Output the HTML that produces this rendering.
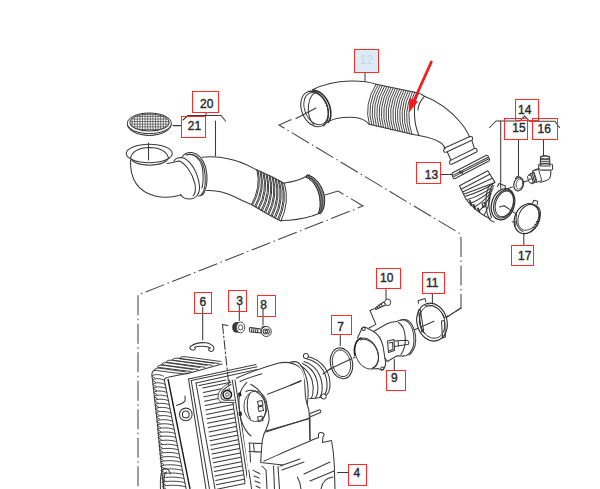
<!DOCTYPE html>
<html><head><meta charset="utf-8"><style>
html,body{margin:0;padding:0;background:#fff;}
body{width:600px;height:489px;overflow:hidden;position:relative;}
svg{position:absolute;left:0;top:0;}
.l{fill:none;stroke:#3a3a3a;stroke-width:1.05;stroke-linecap:round;stroke-linejoin:round;}
.t{fill:none;stroke:#2a2a2a;stroke-width:1.6;}
.dd{fill:none;stroke:#444;stroke-width:1.05;stroke-dasharray:20 3.5 1.5 3.5;}
.b{fill:none;stroke:#ff2a2a;stroke-width:1;}
.n{font-family:"Liberation Sans",sans-serif;font-weight:normal;font-size:12px;fill:#2b2b2b;stroke:#2b2b2b;stroke-width:0.4;}
</style></head><body>
<svg width="600" height="489" viewBox="0 0 600 489">
<!-- dash-dot phantom lines -->
<g id="dd">
<path class="dd" d="M291.5 119.5 L279 125 L459 233 Q461 235 461 240 L461 308 L446 317"/>
<path class="dd" d="M325 195 L338 191 L363 206 L138 295 L138 489"/>
</g>


<!-- PART 21 screen -->
<defs>
<clipPath id="scr"><ellipse cx="149.5" cy="122.4" rx="19.3" ry="8.2"/></clipPath>
</defs>
<g id="p21">
<path class="l" d="M127.4 124.8 C128 130 137 135.4 149.3 135.4 C161.5 135.4 170.5 130 171.2 124.8"/>
<ellipse cx="149.3" cy="123.3" rx="22" ry="10.3" fill="#fff" stroke="#333" stroke-width="1"/>
<ellipse class="l" cx="149.5" cy="122.4" rx="19.6" ry="8.5"/>
<g clip-path="url(#scr)" stroke="#4a4a4a" stroke-width="0.75" fill="none">
<path d="M127 113.8H172 M127 116.4H172 M127 119.0H172 M127 121.6H172 M127 124.2H172 M127 126.8H172 M127 129.4H172 M127 132.0H172"/>
<path d="M129.5 112V134 M132.1 112V134 M134.7 112V134 M137.3 112V134 M139.9 112V134 M142.5 112V134 M145.1 112V134 M147.7 112V134 M150.3 112V134 M152.9 112V134 M155.5 112V134 M158.1 112V134 M160.7 112V134 M163.3 112V134 M165.9 112V134 M168.5 112V134"/>
</g>
<path class="l" d="M173 125.6H181"/>
</g>

<!-- PART 20 hose -->
<g id="p20">
<!-- leaders/bracket -->
<path class="l" d="M206 113V115.5M183 120L188 115.5H221L225.5 121"/>
<path class="l" d="M215.5 121V156"/>
<!-- top opening -->
<ellipse class="l" cx="149.3" cy="153.5" rx="23" ry="9.2"/>
<path class="l" d="M130.5 158 Q133 148 149.5 147.5 Q166 148 168.5 158 Q166 164.5 149.5 165.2 Q133 164.5 130.5 158"/>
<path class="l" d="M148.5 143V160"/>
<!-- elbow body -->
<path class="l" d="M130.5 160 C130 177 136 191 155 196 C163 198 172 197.5 181 195"/>
<path class="l" d="M167 163.5 C172 163 175 162 179 161"/>
<!-- front lip of collar -->
<path class="l" d="M174 161 C175 158 180 157 184 158 C191 162 198 172 199.5 186 C200 194 196 199 189.5 199 C185 199 182 197 180.5 194.5"/>
<path class="l" d="M179 161 C185 163 192 172 195 184 C196 190 195 194 193 196"/>
<!-- back flange rings -->
<path class="l" d="M182.5 156.5 C185 153 189 152.3 192 152.6 C198 153.5 203 159 205.5 167 C207.5 175 207.5 185 204.5 192 C203 195 201 196 198.5 196"/>
<path class="l" d="M186 155 C190 153.5 196 154.5 200.5 160 C204 165 205.5 173 205.3 182 C205 188 203.5 192.5 201 195"/>
<path class="l" d="M190 154 C195 154.5 200 159.5 202 166 C203.5 172 203.6 182 202 188"/>
<!-- hose after collar -->
<path class="l" d="M202 157.3 C208 156.4 214 156.5 220 157.3 C229 158.5 238 161 246 164.5 C250 166.5 254 168.5 257 170"/>
<path class="l" d="M206.5 190.5 C215 190 225 192 234 196.5 C241 200 246 202.5 251.5 204.5"/>
<!-- bellows -->
<path class="l" d="M257 170 C262 172 275 178 284.5 183.5"/>
<path class="l" d="M251.5 204.5 C259 209 270 216 281 221"/>
<g id="bel20"><path style="stroke-width:1" class="l" d="M257.0 170.0 Q261.2 187.2 251.5 204.5 M258.1 170.5 Q262.4 187.8 252.6 205.1 M260.1 171.5 Q264.4 188.9 254.8 206.3 M261.1 172.0 Q265.5 189.5 255.9 207.0 M263.1 173.0 Q267.6 190.6 258.1 208.2 M264.2 173.5 Q268.7 191.2 259.2 208.8 M266.2 174.5 Q270.8 192.2 261.3 210.0 M267.2 175.0 Q271.9 192.8 262.5 210.6 M269.2 176.0 Q273.9 193.9 264.6 211.8 M270.3 176.5 Q275.0 194.5 265.8 212.5 M272.3 177.5 Q277.1 195.6 267.9 213.7 M273.3 178.0 Q278.2 196.2 269.0 214.3 M275.3 179.0 Q280.2 197.2 271.2 215.5 M276.4 179.5 Q281.4 197.8 272.3 216.1 M278.4 180.5 Q283.4 198.9 274.4 217.3 M279.5 181.0 Q284.5 199.5 275.6 218.0 M281.4 182.0 Q286.6 200.6 277.7 219.2 M282.5 182.5 Q287.7 201.2 278.9 219.8 M284.5 183.5 Q289.8 202.2 281.0 221.0"/></g>
<!-- after bellows -->
<path class="l" d="M284.5 183 C292 182 300 180 306 176.5 C307.5 175.5 308.5 175 309.5 175"/>
<path class="l" d="M281.5 220.5 C290 220.5 302 219 312 216 C315 215 317 214 319 213.5"/>
<!-- end flange dark -->
<path d="M307 174.8 C316 176.5 323 186.5 324.5 197 C325.3 204.5 323.5 210.5 320.5 213.8 L318.3 213.4 C320.2 209.5 320.6 204 319.6 197.5 C318.3 189 313.5 180.5 306 177.2 Z" fill="#8a8a8a" stroke="#222" stroke-width="1"/>
<path class="l" d="M308.5 176.5 C315 180 320 188 321.8 197 C322.8 204 322 209.5 319.8 213"/>

</g>


<!-- PART 12 hose -->
<g id="p12">
<path class="l" d="M365 72V80.5"/>
<!-- left cuff rings -->
<ellipse cx="314.5" cy="109" rx="12.8" ry="18.5" transform="rotate(-22 314.5 109)" fill="none" stroke="#333" stroke-width="1"/>
<ellipse cx="316" cy="108.6" rx="11.2" ry="16.8" transform="rotate(-22 316 108.6)" fill="none" stroke="#3a3a3a" stroke-width="0.9"/>
<path class="l" d="M314 124.5 C309.5 121 307.5 113 308.5 105 C309.5 97.5 313 92.5 318 92"/>
<path class="l" d="M308 91.5 C316 89.5 324 96 327.5 106 C330 114 328.5 122 323.5 126"/>
<path class="t" d="M312 90 C320 90 327 97 330 107 C332 115 330.5 121 327.5 123"/>
<path class="l" d="M316 108 L296 118.5"/>
<!-- body -->
<path class="l" d="M313 89.5 C322 85 336 81.5 350 81 C362 80.8 370 82 376 84.3"/>
<path class="l" d="M328.5 121.5 C335 118 345 116.8 355 117.4 C361 118 366 120.5 369.3 124.3"/>
<!-- bellows outline -->
<path class="l" d="M376 84.3 L414.7 92.3"/>
<path class="l" d="M369.3 124.3 L412 134.3"/>
<g id="bel12"><path style="stroke-width:0.95;stroke:#3a3a3a" class="l" d="M376.0 84.3 Q363.6 104.3 369.3 124.3 M378.1 84.7 Q365.9 104.8 371.7 124.9 M380.3 85.2 Q368.2 105.3 374.0 125.4 M382.4 85.6 Q370.4 105.8 376.4 126.0 M384.6 86.1 Q372.7 106.3 378.8 126.5 M386.8 86.5 Q375.0 106.8 381.2 127.1 M388.9 87.0 Q377.2 107.3 383.5 127.6 M391.1 87.4 Q379.5 107.8 385.9 128.2 M393.2 87.9 Q381.7 108.3 388.3 128.7 M395.4 88.3 Q384.0 108.8 390.6 129.3 M397.5 88.7 Q386.3 109.3 393.0 129.9 M399.6 89.2 Q388.5 109.8 395.4 130.4 M401.8 89.6 Q390.8 110.3 397.8 131.0 M403.9 90.1 Q393.0 110.8 400.1 131.5 M406.1 90.5 Q395.3 111.3 402.5 132.1 M408.2 91.0 Q397.6 111.8 404.9 132.6 M410.4 91.4 Q399.8 112.3 407.3 133.2 M412.6 91.9 Q402.1 112.8 409.6 133.7 M414.7 92.3 Q404.4 113.3 412.0 134.3"/></g>
<!-- collar after bellows -->
<path class="l" d="M414.7 92.3 C418 92.5 421 93.5 424.5 96.3"/>
<path class="l" d="M418.5 93.5 C413 102 413 122 419 135.5"/>
<path class="l" d="M424.5 96.3 C420 101 418 106 418 110"/>
<path class="l" d="M412 134.3 L419 135.5"/>
<!-- right body -->
<path class="l" d="M424.5 96.3 C437 101 451 111 461 123 C465 128 468 133 469.5 137"/>
<path class="l" d="M419 135.5 C428 137 436 139.5 441.5 143.2 C443.5 145 444.5 147 445 149"/>
<!-- end fitting -->
<path class="l" d="M444.5 148 L470 136.6 Q472.5 136 472.5 138.5 L472.4 140 L446.6 152 Q444 153 443.6 150.6 Z"/>
<path class="l" d="M447.3 152 L451 160.3 M472 141 L474.5 148.3"/>
<path class="l" d="M450 160.6 L474.6 148.5 Q477 148 477 150.5 L477 151.8 L452.3 164 Q449.6 165 449.4 162.5 Z"/>
</g>

<!-- PART 13 strip -->
<g id="p13">
<path class="l" d="M441 174.4 H452"/>
<path class="l" d="M452.2 173 L486.4 155.2 Q488 155 488.6 157 L489.6 159.8 Q489.5 161 488.5 161.3 L454.6 178.7 Q453.6 179 453.2 178 L452 174.5 Q451.8 173.4 452.2 173 Z"/>
<path class="l" d="M453.3 175.1 L487.6 157.5 M453.8 176.6 L488.4 159"/>
<path class="l" d="M459 173 l4 -2 M459.5 171 l3 2.5"/>
</g>

<!-- BOOT -->
<g id="boot">
<path class="l" d="M459.5 185.7 L487.8 170.8 L495 182.4 L463.6 194.3 Z"/>
<path class="l" d="M461.2 189.2 L489.8 174.2 M462.5 192 L492.3 178.3"/>
<path class="l" d="M463.6 194.3 C464.5 197 466.5 200 469 203 C472 206.5 476 210 481 213.5 C484.5 216 487.5 217.8 490.5 218.8"/>
<path class="l" d="M493.8 183.2 Q481.1 191.7 465.5 196.2 M494 185.8 Q482.4 194.7 467.8 199.6 M493.2 188.3 Q483.5 197.8 470.8 203.3 M492.2 190.8 Q484.9 200.9 474.6 207 M491.2 193.3 Q486.7 204.1 479.2 210.8 M490.3 196 Q488.9 207.2 484.5 214.5"/>
<path d="M468.6 200.6 L470.4 200 L472.6 205.5 L470.8 206.2 Z M472.4 204.4 L474.2 203.8 L476.4 209.2 L474.6 209.8 Z M476.8 208 L478.6 207.4 L480.4 212 L478.6 212.6 Z" fill="#333"/>
<path class="l" d="M482 203.5 L484.5 202.5 L485.5 206.5 L483 207.5 Z"/>
<!-- outlet cylinder band -->
<path class="l" d="M489.5 185.5 C485 193 484.5 208 489 218.5 C490 220.5 492 221.5 494 222"/>
<path class="l" d="M492.5 184.8 C488 192 487.5 207 491.5 217.5"/>
<ellipse cx="503" cy="204.2" rx="11.3" ry="16" transform="rotate(18 503 204.2)" fill="#fff" stroke="#2a2a2a" stroke-width="1.2"/>
<ellipse class="l" cx="503.7" cy="204" rx="9.6" ry="14.4" transform="rotate(18 503.7 204)"/>
<ellipse class="l" cx="504.3" cy="203.8" rx="8.6" ry="13.3" transform="rotate(18 504.3 203.8)"/>
<path class="l" d="M497.5 186.5 L499 183.5 L505.5 186 L505 189"/>
<path class="l" d="M499.5 207 L504 205.7"/>
</g>

<!-- PARTS 14-17 -->
<g id="p14">
<path class="l" d="M489.5 127.5 L496 121 H520 L524.5 115.8 L529.5 121.3 H555 L559.5 127.5"/>
<path class="l" d="M500.7 121 V189"/>
<path class="l" d="M518.5 140 V176 M543.5 140 V155.5 M523.8 245 V233"/>
<!-- 15 small clamp -->
<ellipse cx="518.7" cy="184.2" rx="4.8" ry="6.8" transform="rotate(12 518.7 184.2)" fill="none" stroke="#2e2e2e" stroke-width="1.1"/>
<ellipse cx="519.4" cy="184" rx="3.2" ry="5.2" transform="rotate(12 519.4 184)" fill="none" stroke="#3a3a3a" stroke-width="0.8"/>
<path class="l" d="M515.5 178.5 L517 176.5 L520.5 177.3 L521 179"/>
<path class="l" d="M522.4 182.3 L528 180.8 M505 189.5 L512.5 187"/>
<!-- 16 elbow fitting -->
<path class="l" d="M540.5 157.5 C540.5 155.5 549.5 155.5 549.5 157.5 L550 166 L540.3 166 Z"/>
<ellipse class="l" cx="545" cy="157.3" rx="4.5" ry="1.6"/>
<path class="l" d="M540.5 159.8 H549.7 M540.5 161.8 H549.8 M540.4 163.8 H549.9"/>
<path class="l" d="M538.7 164.5 C538.7 163.5 552.5 163.5 552.5 164.8 L552.5 169.5 C552.5 170.5 538.7 170.5 538.7 169.5 Z"/>
<path class="l" d="M550.8 170.5 C551 174 550.5 177 549.5 178.5 C547.5 181 543.5 181.5 539.8 182.3"/>
<path class="l" d="M539.3 168.5 C537.5 168.8 535.5 169.5 532.6 171"/>
<path d="M532.6 171 L538.5 169.5 L541.8 180.3 L536 182.5 Z" fill="#fff" stroke="#3a3a3a" stroke-width="0.9"/>
<path d="M529 174.5 L534 172 L537 181.5 L531.5 184 Z" fill="#fff" stroke="#3a3a3a" stroke-width="0.9"/>
<path class="l" d="M530.5 173.6 L533.3 183.2 M532 172.9 L534.8 182.5 M533.5 172.2 L536.2 181.8"/>
<ellipse cx="530.2" cy="179.2" rx="2.2" ry="4.4" transform="rotate(-20 530.2 179.2)" fill="#fff" stroke="#3a3a3a" stroke-width="0.9"/>
<path class="l" d="M528.8 179.6 L531.6 178.8"/>
<!-- 17 big clamp -->
<ellipse cx="526.8" cy="218.7" rx="12" ry="15.5" transform="rotate(25 526.8 218.7)" fill="none" stroke="#2a2a2a" stroke-width="1.2"/>
<ellipse cx="528.4" cy="217.4" rx="9.9" ry="13.4" transform="rotate(25 528.4 217.4)" fill="none" stroke="#3a3a3a" stroke-width="0.9"/>
<path class="l" d="M516.5 214 C515 221 517 229 523 231.5"/>
<path class="l" d="M529 204.5 C535 203 540.5 207 540.5 214 C540.5 222 536 229 530 232"/>
<path class="l" d="M536.3 221.5 L538.2 222.3 M535 224.5 L536.8 225.5 M533.4 227.3 L535 228.5"/>
<path class="l" d="M532.5 203.3 L533.8 200.3 L537.7 201.3 L537.2 204.5"/>
<path class="l" d="M504 205.7 L515.8 213.6"/>
<path class="l" d="M512.2 222 L515 221.5 L515.3 225.5"/>
</g>



<!-- FILTER BOX -->
<g id="fbox">
<path class="l" d="M155 370 C152.5 371 151.5 373 152 376 L157 420 L163.5 489"/>
<path class="l" d="M164.3 380 L186.2 489"/>
<path d="M168 379 L190 489" fill="none" stroke="#1c1c1c" stroke-width="1.4"/>
<path class="l" d="M164.3 380 C164.5 378.5 166 377.5 168 377.2 L189 373"/>
<path style="stroke-width:0.95" class="l" d="M151.8 376.0 C153.8 373.8 160.5 374.2 163.5 376.2 M153.0 376.8 L155.3 378.3 M152.3 380.1 C154.3 377.9 161.3 378.3 164.3 380.3 M153.5 380.9 L155.8 382.4 M152.7 384.2 C154.7 382.0 162.1 382.4 165.1 384.4 M153.9 385.0 L156.2 386.5 M153.1 388.3 C155.1 386.1 163.0 386.5 166.0 388.5 M154.3 389.1 L156.6 390.6 M153.6 392.4 C155.6 390.2 163.8 390.6 166.8 392.6 M154.8 393.2 L157.1 394.7 M154.0 396.5 C156.0 394.3 164.6 394.7 167.6 396.7 M155.2 397.3 L157.5 398.8 M154.4 400.6 C156.4 398.4 165.4 398.8 168.4 400.8 M155.6 401.4 L157.9 402.9 M154.9 404.7 C156.9 402.5 166.2 402.9 169.2 404.9 M156.1 405.5 L158.4 407.0 M155.3 408.8 C157.3 406.6 167.1 407.0 170.1 409.0 M156.5 409.6 L158.8 411.1 M155.7 412.9 C157.7 410.7 167.9 411.1 170.9 413.1 M156.9 413.7 L159.2 415.2 M156.2 417.0 C158.2 414.8 168.7 415.2 171.7 417.2 M157.4 417.8 L159.7 419.3 M156.6 421.1 C158.6 418.9 169.5 419.3 172.5 421.3 M157.8 421.9 L160.1 423.4 M157.0 425.2 C159.0 423.0 170.3 423.4 173.3 425.4 M158.2 426.0 L160.5 427.5 M157.3 429.3 C159.3 427.1 171.2 427.5 174.2 429.5 M158.5 430.1 L160.8 431.6 M157.7 433.4 C159.7 431.2 172.0 431.6 175.0 433.6 M158.9 434.2 L161.2 435.7 M158.0 437.5 C160.0 435.3 172.8 435.7 175.8 437.7 M159.2 438.3 L161.5 439.8 M158.4 441.6 C160.4 439.4 173.6 439.8 176.6 441.8 M159.6 442.4 L161.9 443.9 M158.7 445.7 C160.7 443.5 174.4 443.9 177.4 445.9 M159.9 446.5 L162.2 448.0 M159.1 449.8 C161.1 447.6 175.3 448.0 178.3 450.0 M160.3 450.6 L162.6 452.1 M159.4 453.9 C161.4 451.7 176.1 452.1 179.1 454.1 M160.6 454.7 L162.9 456.2 M159.8 458.0 C161.8 455.8 176.9 456.2 179.9 458.2 M161.0 458.8 L163.3 460.3 M160.2 462.1 C162.2 459.9 177.7 460.3 180.7 462.3 M161.4 462.9 L163.7 464.4 M160.5 466.2 C162.5 464.0 178.5 464.4 181.5 466.4 M161.7 467.0 L164.0 468.5 M160.9 470.3 C162.9 468.1 179.4 468.5 182.4 470.5 M162.1 471.1 L164.4 472.6 M161.2 474.4 C163.2 472.2 180.2 472.6 183.2 474.6 M162.4 475.2 L164.7 476.7 M161.6 478.5 C163.6 476.3 181.0 476.7 184.0 478.7 M162.8 479.3 L165.1 480.8 M161.9 482.6 C163.9 480.4 181.8 480.8 184.8 482.8 M163.1 483.4 L165.4 484.9 M162.3 486.7 C164.3 484.5 182.6 484.9 185.6 486.9 M163.5 487.5 L165.8 489.0"/>
<path style="stroke-width:0.95" class="l" d="M154 370 C155 368.5 157 368 160 368.2 L186 372 M155 370.3 L184 374 M157 367 C158 365.5 160 365 163 365.2 L193 369.5 M158 367.3 L191 371.5 M161 364.5 C162 363.0 164 362.5 167 362.7 L200 367.5 M162 364.8 L198 369.5 M166 362 C167 360.5 169 360 172 360.2 L207 365.3 M167 362.3 L205 367.3 M172 360 C173 358.5 175 358 178 358.2 L214 363.3 M173 360.3 L212 365.3 M179 358.5 C180 357.0 182 356.5 185 356.7 L221 361.5 M180 358.8 L219 363.5"/>
<path class="l" d="M186 374 L222 364"/>
<circle class="l" cx="185.8" cy="414.4" r="6.3"/><circle class="l" cx="185.8" cy="414.4" r="3.4"/>
<path class="l" d="M185 396 L185.2 400.5 C184.5 402.5 181 404 176.5 405.5"/>
<path class="l" d="M160.5 489 C160 478 161 470 164 468.5 C167 467.5 169 470 170.5 474 M163.5 489 C163.5 480 164.5 473 166.5 472"/>
<path class="l" d="M188.5 379 L206 489"/>
<path class="l" d="M191.2 380.5 L209.5 489"/>
<path class="l" d="M196 383 L215 489"/>
<path class="l" d="M188.5 379 L256 364.5 M191.2 380.5 L257 366.8 M196 383 L257 369.5 M199 385.5 L226 380"/>
<path class="l" d="M229.5 380 L246 489 M232.3 380 L249 489 M235 380 L251.6 489"/>
<path class="l" d="M202.7 388.0 L229.5 382.6 M203.3 392.4 L230.2 387.0 M204.0 396.8 L230.8 391.4 M204.6 401.2 L231.5 395.8 M205.2 405.6 L232.2 400.2 M205.8 410.0 L232.8 404.6 M206.4 414.4 L233.5 409.0 M207.0 418.8 L234.2 413.4 M207.6 423.2 L234.8 417.8 M208.3 427.6 L235.5 422.2 M208.9 432.0 L236.2 426.5 M209.5 436.4 L236.8 430.9 M210.1 440.8 L237.5 435.3 M210.7 445.2 L238.2 439.7 M211.3 449.6 L238.8 444.1 M212.0 454.0 L239.5 448.5 M212.6 458.4 L240.2 452.9 M213.2 462.8 L240.8 457.3 M213.8 467.2 L241.5 461.7 M214.4 471.6 L242.2 466.1 M215.0 476.0 L242.8 470.4 M215.7 480.4 L243.5 474.8 M216.3 484.8 L244.2 479.2 M216.9 489.2 L244.8 483.6"/>
</g>
<g id="cover">
<!-- white fill for cover to hide frame lines -->
<path d="M236.5 378 C246 374 262 367.5 278.7 362.9 C285 361.8 292 362 299 366.6 L303 372 L305.4 396 L309 410.8 L310 440 L310 418 L266 432 C262 436 258 438 256 440 L244 489 L250.5 489 L236.5 378 Z" fill="#fff" stroke="none"/>
<!-- bolt boss -->
<path d="M231 382.4 C226 384 220 389 218.3 394 C217.5 399 219.5 402 223 402.3 L234.6 402.6" fill="#fff" stroke="#3a3a3a" stroke-width="0.9"/>
<path class="l" d="M231 384.5 C227 386.5 222 390 221 394.5 C220.5 398 222 400 225 400.3 L234 400.3"/>
<circle cx="227.3" cy="394.6" r="4.2" fill="#fff" stroke="#1e1e1e" stroke-width="1.6"/>
<circle cx="227.3" cy="394.6" r="1.8" fill="none" stroke="#3a3a3a" stroke-width="0.9"/>
<!-- frame lines continuing past boss -->

<!-- cover outline -->
<path class="l" d="M236.5 378 C246 374 262 367.5 278.7 362.9 C285 361.8 292 362 299 366.6"/>
<path class="l" d="M240 381.5 C248 378 254 376 262 373.8"/>
<path class="l" d="M246.9 382.4 C244 385 241 390 239.5 394.6"/>
<path class="l" d="M250.6 384.2 C258 388 264 396 266.5 404.4 C268.5 410 269.5 415 269 420.4 C268 426 266 430 264 433.9"/>
<path class="l" d="M299 366.6 C302 369 304 373 304.5 377.6 L305.4 396 C306 402 308 406 309 410.8 L310 440"/>
<path class="l" d="M267.6 394.2 L300.8 381.3"/>
<path class="l" d="M265.8 431 L308 419"/>
<!-- opening -->
<ellipse cx="255.5" cy="406.3" rx="11.6" ry="15.3" fill="none" stroke="#3a3a3a" stroke-width="0.9"/>
<path class="l" d="M250 393.5 C246.5 398 246 412 250.5 419"/>
<path class="l" d="M246 391.5 C252 388 260 392 264 400 C267 408 266 416 262 420"/>
<path d="M238 393 L241 392 L241.5 396 L238.5 397 Z M238.5 412 L241.5 411.5 L242 415.5 L239 416 Z" fill="#222"/>
<path class="l" d="M257.5 401.5 L262 400.5 L263 405 L258.5 406 Z M258 407 L262.5 406 L263.5 410.5 L259 411.5 Z M257.5 417 L262 416 L263 420.5 L258.5 421.5 Z"/>
<path class="l" d="M241 420 C243 426 246 432 251 436"/>
<!-- left cover contour down -->
<path class="l" d="M239.5 394.6 C238.5 400 239 410 241 420"/>
</g>


<!-- OUTLET + LOWER HOUSING -->
<g id="outlet">
<path d="M296 361.5 C301 359 304 356 306 355 C315 356 325 366 328.5 378 C330 387 328 393 323.5 397 C318 398 312 399 308.5 398 L303 372 Z" fill="#fff"/>
<path class="l" d="M290 362.2 C293 361.5 296 361.3 298 362.5 C301 364.5 303.5 369 305.5 375 C307.5 381 308.5 390 308 397 C307.8 400 307.5 402 307.2 404"/>
<path class="l" d="M306 356.2 C314 357.5 321 362 325.5 368.5 C329 374 330.2 380 330 386 C329.8 390 328.5 393.5 325.5 396"/>
<path class="l" d="M306.5 358.8 C313.5 360.5 320 365 323.5 371 C326.5 376.5 327.3 382 327 387.5 C326.7 391 325.5 394 323.5 396"/>
<path class="l" d="M304 361.5 C310.5 363.5 316.5 368.5 319.5 375 C322 380.5 322.5 386 322 391 C321.7 393.5 321 395.5 320 397"/>
<path class="l" d="M302.5 363.5 C308.5 366 313.5 371 316 377.5 C318 383 318.3 388.5 317.5 393 C317 395 316.5 396.5 315.5 397.8"/>
<path class="l" d="M301 366 C306 369 310 374 312 380 C313.5 385 313.5 390 312.8 394 C312.5 395.5 312 397 311.3 398"/>
<path class="l" d="M309.5 398.5 C313 398.8 318 398 321.5 397"/>
<circle cx="305.9" cy="356" r="2.6" fill="#fff" stroke="#2e2e2e" stroke-width="1"/>
<circle cx="323.7" cy="396.5" r="2.6" fill="#fff" stroke="#2e2e2e" stroke-width="1"/>
<path class="l" d="M290 385.4 L301 380.5"/>
<path class="l" d="M329.3 369.5 L333 367.8"/>
<!-- small pipe -->
<path class="l" d="M310 413.5 L319 409.9 C320.5 409.5 321.5 411 320.5 412.5 L311 416.5"/>
<!-- lower housing -->
<path class="l" d="M266 432 L310 418"/>
<path class="l" d="M310 415 L310 440"/>
<path class="l" d="M264 461 C280 454 300 445 316 438.5 L318.5 437.5 L318.5 434 C319 432.5 321 432 323 433 C324.5 434 324.5 436 323 436.5 L322.5 442.5 L331.5 440.5 C333 448 334 458 334.3 465 L335 489"/>
<path class="l" d="M304 474 L330 462 M310 481 L334 471"/>
<path class="l" d="M321 489 C322 482 326 478 333 477"/>
<path class="l" d="M337.5 472.4 H348.5"/>
<path class="l" d="M264 433.9 C263 437 262.3 440 262 443 C261.5 449 261 456 260.7 462.4 L282.7 465.1"/>
<path class="l" d="M273.5 466 L274.5 489 M278 466.5 L279.5 489 M262 466 L266 470 L267 489 M297.4 477 C299 480 300.5 484 301 489"/>
<path class="l" d="M248.8 443 L261.8 443.5 M249 451.4 L261.5 452 M249.5 443 L250.5 462 M253.5 443.2 L254.3 452"/>

<path class="l" d="M253 470 C255 472 258 472 260 474 M254 476 L259 478 M255 481 L260 483 M256 486 L260 488"/>
<path class="l" d="M280 466 L300 459 M282 470 L304 462"/>
</g>

<!-- PARTS 6 3 8 -->
<g id="p638">
<path class="l" d="M202.7 307.5 V340"/>
<path class="l" d="M191.5 345.8 C195 343.5 199 342.6 203 342.6 C207.5 342.7 211 344 213.2 346.3 C214.3 347.8 214 350.5 212 351.3 C210.3 351.8 208.8 350.8 208.6 349.4 C208.7 348.4 209.6 347.8 210.5 348 C207 346 199 345.5 194.5 347.2 C195.5 347.8 195.5 349.3 194.3 349.8 C192.5 350.4 190 349.6 189.8 347.8 C189.8 347 190.5 346.3 191.5 345.8 Z"/>
<path class="l" d="M239.3 305.5 V320.5"/>
<path class="l" d="M263 309 V325"/>
<!-- nut 3 -->
<path d="M236 322 C233.3 322.5 232 325 232.2 328 C232.4 330.8 233.6 332.6 236.3 332.8 L239 332.6 L239 322 Z" fill="#3a3a3a"/>
<ellipse cx="240.6" cy="327.4" rx="4.2" ry="5.4" fill="#fff" stroke="#3a3a3a" stroke-width="0.9"/>
<ellipse cx="240.6" cy="327.4" rx="2.2" ry="2.6" fill="none" stroke="#3a3a3a" stroke-width="0.9"/>
<path class="l" d="M222.5 324.5 L228 325.5"/>
<path style="stroke-dasharray:9 2.5 2 2.5" class="l" d="M222.5 324.5 L229.5 392"/>
<!-- bolt 8 -->
<path class="l" d="M249.8 327.5 L261 329 L261 333 L250 331.7 Q248.8 329.5 249.8 327.5 Z"/>
<path class="l" d="M252 327.8 L251.5 331.9 M254 328 L253.5 332.2 M256 328.3 L255.5 332.5 M258 328.6 L257.5 332.7"/>
<ellipse cx="266.3" cy="331.5" rx="5" ry="5" fill="#fff" stroke="#3a3a3a" stroke-width="1"/>
<path class="l" d="M261.5 328 Q262.5 326 266 326.3"/>
<path class="l" d="M264 329.3 L268.5 329.3 L269.5 331.6 L268.5 333.8 L264 333.8 L263 331.6 Z"/>
<circle cx="266.3" cy="331.6" r="1.3" class="l"/>
</g>

<!-- PART 10 screw + leader -->
<g id="p10">
<path class="l" d="M386 289.5 V299.3"/>
<path class="l" d="M374.8 308.5 L383.5 302 L386 304.8 L376 309.5 Z"/>
<path class="l" d="M377 306.8 L378.3 308.5 M379 305.3 L380.3 307.4 M381 303.8 L382.3 306.3"/>
<ellipse cx="387.7" cy="302.3" rx="3" ry="3.3" fill="#fff" stroke="#3a3a3a" stroke-width="1"/>
<path class="l" d="M373.6 309 L370 310.5 L375.9 324.4 L369 328"/>
</g>

<!-- PART 7 O-ring -->
<g id="p7">
<path class="l" d="M340.3 335.5 V345.5"/>
<ellipse cx="341.5" cy="363.3" rx="11" ry="15.6" transform="rotate(-12 341.5 363.3)" fill="none" stroke="#333" stroke-width="1.1"/>
<ellipse cx="341.5" cy="363.3" rx="9" ry="13.6" transform="rotate(-12 341.5 363.3)" fill="none" stroke="#333" stroke-width="0.9"/>
</g>

<!-- axis line -->
<path class="l" d="M323 374 L330.5 368.7 M333 367.5 L351 359 M353.5 358 L355 357.3 M357 356.3 L367 351.7 M447.5 316.8 L461 308"/>

<!-- PART 9 MAF housing -->
<g id="p9">
<path class="l" d="M394.3 370 V359.4"/>
<!-- rear flange -->
<path class="l" d="M397 321.4 C401 319 405 319.5 408 322 C412 326 414 333 414 340 C414 347 411 353 406.5 355.5 L403 356"/>
<path class="l" d="M400.5 320.2 C405 318.5 409 320 411.5 324 C414.5 329 416 335 415.7 341 C415.3 347 413 352 409 355"/>
<path class="l" d="M398.5 322.5 C402.5 325 405 331 405.3 338 C405.5 345 403.5 351 401 354.5"/>
<!-- body cylinder -->
<path class="l" d="M373.6 331.5 L386.5 324 C389 322.5 393 321.5 397 321.4"/>
<path class="l" d="M385 358 L387.2 361.5 L397.2 355.8 L403 356"/>
<!-- flange plate -->
<path class="l" d="M361 330.5 C361.5 327.5 364 326.5 366 327.5 L373.6 331.5 C378 334 381.5 340 383 346 L385.3 360.5 C386 364 385 367.5 383 369.5 C381 370.5 379.5 369.5 378.5 368.5 L371.5 369 M361 330.5 L357.5 338"/>
<circle class="l" cx="363.6" cy="328.9" r="1.6"/>
<circle class="l" cx="382.3" cy="368.5" r="1.6"/>
<!-- front opening -->
<ellipse cx="366.7" cy="353.5" rx="11" ry="16" transform="rotate(-22 366.7 353.5)" fill="#fff" stroke="#3a3a3a" stroke-width="0.9"/>
<path d="M355 356 C353 347 356 339.5 361.5 337.8" fill="none" stroke="#1e1e1e" stroke-width="1.5"/>
<path class="l" d="M360.5 340 C366 337.5 373.5 342 377 350 C380 358 378 366 372.5 368"/>
<!-- sensor connector -->
<path class="l" d="M387.5 341 L394 339.5 L394.5 350.5 L388.5 352.5 Z"/>
<path class="l" d="M389 343 L392.5 342.2 L393 349.5 L389.5 350.5"/>
<path class="l" d="M394.2 341 L406.5 340.3 C408.5 340.3 409.5 342.5 408.5 344.3 L394.4 346.5"/>
<path class="l" d="M398 340.8 L398.5 346"/>
</g>

<!-- PART 11 clamp -->
<g id="p11">
<path class="l" d="M432.4 294.3 V303"/>
<ellipse cx="432" cy="322.1" rx="15" ry="19.2" transform="rotate(-15 432 322.1)" fill="none" stroke="#2e2e2e" stroke-width="1.1"/>
<ellipse cx="432.3" cy="322" rx="12.4" ry="16.6" transform="rotate(-15 432.3 322)" fill="none" stroke="#3a3a3a" stroke-width="0.9"/>
<path class="l" d="M425 305.5 C433 303.5 441 309 444.5 318 M420.5 311 C418 318 419 327 424.5 333.5"/>
<path class="l" d="M418.3 310 L420.2 309.5 L423.7 331 L421.8 332 Z M441.5 321 L444.5 320.5 L445.5 337 L442.5 338 Z"/>
<path class="l" d="M418.5 303.2 L418.1 300.7 L425 298.5 L425.8 301.8"/>
<path class="l" d="M414.3 330 L418 328.3 M421 327 L433.9 321.3 M445.8 317.5 L447.5 316.8"/>
</g>

<!-- red arrow -->
<g id="arrow">
<path d="M431.3 62 L414 100.5" stroke="#f41a1a" stroke-width="2.7" fill="none" stroke-linecap="round"/>
<path d="M409.2 111.8 L409.6 98.6 L417.4 101.8 Z" fill="#f41a1a" stroke="#f41a1a" stroke-width="0.8" stroke-linejoin="round"/>
</g>

<!-- BOXES -->
<g id="boxes">
<rect class="b" x="192.5" y="91.5" width="26.0" height="21.0"/>
<rect class="b" x="181.5" y="116.5" width="24.0" height="21.0"/>
<rect x="354.5" y="49.5" width="24.0" height="23.0" fill="#dcebf6" stroke="#ff2a2a" stroke-width="1"/>
<rect class="b" x="416.5" y="162.5" width="24.0" height="21.0"/>
<rect class="b" x="515.5" y="99.5" width="23.0" height="21.0"/>
<rect class="b" x="504.5" y="118.5" width="23.0" height="21.0"/>
<rect class="b" x="532.5" y="118.5" width="25.0" height="21.0"/>
<rect class="b" x="511.5" y="245.5" width="22.0" height="20.0"/>
<rect class="b" x="194.5" y="292.5" width="17.0" height="21.0"/>
<rect class="b" x="228.5" y="290.5" width="18.0" height="21.0"/>
<rect class="b" x="257.5" y="295.5" width="18.0" height="21.0"/>
<rect class="b" x="376.5" y="268.5" width="24.0" height="20.0"/>
<rect class="b" x="422.5" y="272.5" width="22.0" height="21.0"/>
<rect class="b" x="331.5" y="315.5" width="20.0" height="19.0"/>
<rect class="b" x="386.5" y="370.5" width="19.0" height="20.0"/>
<rect class="b" x="348.5" y="464.5" width="18.0" height="21.0"/>
</g>
<g id="nums">
<text id="t20" class="n" x="206.7" y="108.4" text-anchor="middle">20</text>
<text id="t21" class="n" x="194.4" y="130.2" text-anchor="middle">21</text>
<text id="t12" x="366.4" y="64.3" text-anchor="middle" style="font-family:'Liberation Sans',sans-serif;font-size:12px;fill:#c5d5e2">12</text>
<text id="t13" class="n" x="431.5" y="178.6" text-anchor="middle">13</text>
<text id="t14" class="n" x="524.8" y="114.0" text-anchor="middle">14</text>
<text id="t15" class="n" x="519.0" y="132.0" text-anchor="middle">15</text>
<text id="t16" class="n" x="544.2" y="132.5" text-anchor="middle">16</text>
<text id="t17" class="n" x="524.8" y="259.5" text-anchor="middle">17</text>
<text id="t6" class="n" x="202.9" y="305.5" text-anchor="middle">6</text>
<text id="t3" class="n" x="239.5" y="305.2" text-anchor="middle">3</text>
<text id="t8" class="n" x="263.5" y="308.8" text-anchor="middle">8</text>
<text id="t10" class="n" x="386.8" y="282.0" text-anchor="middle">10</text>
<text id="t11" class="n" x="432.3" y="286.7" text-anchor="middle">11</text>
<text id="t7" class="n" x="340.6" y="330.5" text-anchor="middle">7</text>
<text id="t9" class="n" x="394.4" y="382.2" text-anchor="middle">9</text>
<text id="t4" class="n" x="356.8" y="476.8" text-anchor="middle">4</text>
</g>
</svg>
</body></html>
